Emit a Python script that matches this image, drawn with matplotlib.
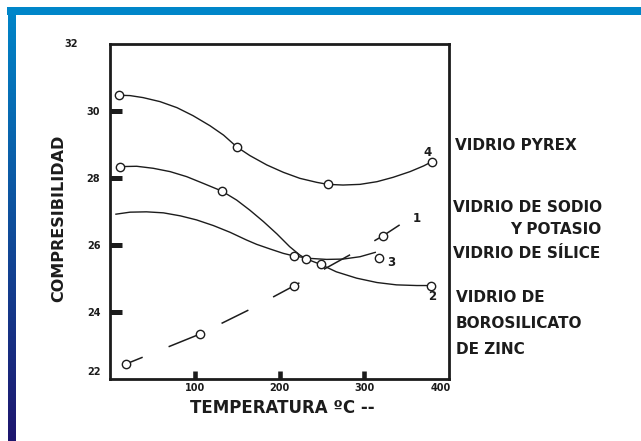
import numpy as np
import matplotlib

matplotlib.use("Agg")

import matplotlib.pyplot as plt
from matplotlib.patches import Rectangle
from matplotlib.transforms import ScaledTranslation

# Temperature (ºC) against compressibility for four glasses.
# 4: pyrex
pyrex_curve_t = [11, 23.6, 39, 59, 79, 98, 118, 134, 149.5, 165, 185, 204.5, 224, 244, 257,
                 275, 295, 315, 334, 354, 370, 380]
pyrex_curve_c = [30.47, 30.46, 30.40, 30.28, 30.10, 29.86, 29.56, 29.28, 28.93, 28.67, 28.39,
                 28.17, 27.99, 27.87, 27.81, 27.79, 27.81, 27.89, 28.02, 28.19, 28.36, 28.49]
pyrex_points_t = [11, 149.5, 257, 380]
pyrex_points_c = [30.47, 28.93, 27.81, 28.49]

# 2: soda-potash glass
sodio_curve_t = [11.8, 31.5, 51, 71, 90.5, 110, 132, 149.5, 165, 181, 197, 212, 224, 231,
                 248.6, 267, 291, 315, 338, 362, 379]
sodio_curve_c = [28.34, 28.35, 28.29, 28.19, 28.04, 27.84, 27.61, 27.34, 27.04, 26.70, 26.33,
                 25.95, 25.70, 25.59, 25.42, 25.20, 25.01, 24.88, 24.81, 24.79, 24.79]
sodio_points_t = [11.8, 132, 231, 248.6, 379]
sodio_points_c = [28.34, 27.61, 25.59, 25.42, 24.79]

# 3: silica glass
silice_curve_t = [7, 23.6, 43, 63, 83, 102, 122, 141.6, 161, 173, 189, 204.5, 217.5, 236,
                  255.6, 275, 295, 313]
silice_curve_c = [26.92, 26.98, 26.99, 26.96, 26.87, 26.75, 26.58, 26.38, 26.15, 26.02, 25.88,
                  25.75, 25.67, 25.60, 25.57, 25.58, 25.65, 25.78]
silice_points_t = [217.5, 317]
silice_points_c = [25.67, 25.60]

# 1: zinc borosilicate glass (dashed)
zinc_curve_t = [19, 106, 166, 217, 287, 322.5, 346]
zinc_curve_c = [22.45, 23.34, 24.09, 24.78, 25.76, 26.28, 26.67]
zinc_points_t = [19, 106, 217, 322.5]
zinc_points_c = [22.45, 23.34, 24.78, 26.28]

x_ticks = [100, 200, 300, 400]
y_ticks = [22, 24, 26, 28, 30, 32]

INK = "#1c1c1c"
W, H = 641, 441

plt.rcParams["font.family"] = ["DejaVu Sans"]

fig = plt.figure(figsize=(W / 100, H / 100), dpi=100)
fig.patch.set_facecolor("white")

# blue page frame: flat bar on top, gradient bar down the left side
fig.patches.append(Rectangle((7 / W, 1 - 15 / H), 1, 8 / H, transform=fig.transFigure,
                             facecolor="#0086c9", edgecolor="none"))
bar = fig.add_axes([8 / W, 0, 8 / W, 1 - 7 / H])
bar.axis("off")
top_rgb = np.array([0, 134, 201]) / 255
bottom_rgb = np.array([30, 22, 110]) / 255
blend = np.linspace(0, 1, 256)[:, None]
grad = top_rgb * (1 - blend) + bottom_rgb * blend
bar.imshow(grad[:, None, :], aspect="auto", extent=[0, 1, 0, 1])

ax = fig.add_axes([110 / W, (H - 379) / H, 339 / W, 335 / H])

line_kw = dict(color=INK, linewidth=1.0, zorder=2)
ax.plot(pyrex_curve_t, pyrex_curve_c, **line_kw)
ax.plot(sodio_curve_t, sodio_curve_c, **line_kw)
ax.plot(silice_curve_t, silice_curve_c, **line_kw)
ax.plot(zinc_curve_t, zinc_curve_c, color=INK, linewidth=1.1, zorder=2,
        linestyle=(7.9, (19.6, 18.3)))

marker_kw = dict(linestyle="none", marker="o", markersize=6, markerfacecolor="white",
                 markeredgecolor=INK, markeredgewidth=1.0, zorder=3)
for t, c in [(pyrex_points_t, pyrex_points_c), (sodio_points_t, sodio_points_c),
             (silice_points_t, silice_points_c), (zinc_points_t, zinc_points_c)]:
    ax.plot(t, c, **marker_kw)

num_kw = dict(fontsize=8.5, fontweight="bold", color=INK, ha="center", va="center")
ax.text(375, 28.75, "4", **num_kw)
ax.text(362, 26.78, "1", **num_kw)
ax.text(332, 25.49, "3", **num_kw)
ax.text(380, 24.45, "2", **num_kw)

ax.set_xlim(0, 400)
ax.set_ylim(22, 32)
ax.set_xticks(x_ticks)
ax.set_xticklabels([str(v) for v in x_ticks])
ax.set_yticks(y_ticks)
ax.set_yticklabels([str(v) for v in y_ticks])
ax.tick_params(axis="x", direction="in", length=5.5, width=3.3, pad=3, labelsize=7,
               colors=INK)
ax.tick_params(axis="y", direction="in", length=8.6, width=3.6, pad=7, labelsize=7,
               colors=INK)
for lab in ax.get_xticklabels() + ax.get_yticklabels():
    lab.set_fontweight("bold")

# no marks at the ends of the scales
ax.xaxis.get_major_ticks()[-1].tick1line.set_visible(False)
ax.yaxis.get_major_ticks()[0].tick1line.set_visible(False)
ax.yaxis.get_major_ticks()[-1].tick1line.set_visible(False)

# nudge the end labels the way they sit on the drawing
def shift(label, dx, dy):
    label.set_transform(label.get_transform() + ScaledTranslation(dx / 100, dy / 100,
                                                                  fig.dpi_scale_trans))

shift(ax.get_xticklabels()[-1], -8, 0)
shift(ax.get_yticklabels()[0], 0, 8)
shift(ax.get_yticklabels()[-1], -22, 1)

for s in ax.spines.values():
    s.set_linewidth(2.0)
    s.set_color(INK)

fig.text(282 / W, 1 - 408 / H, "TEMPERATURA ºC --", fontsize=12, fontweight="bold",
         color=INK, ha="center", va="center")
fig.text(59 / W, 1 - 218 / H, "COMPRESIBILIDAD", fontsize=11.5, fontweight="bold",
         color=INK, ha="center", va="center", rotation=90)

side_kw = dict(fontsize=11, fontweight="bold", color=INK, ha="left", va="center")
fig.text(455 / W, 1 - 145 / H, "VIDRIO PYREX", **side_kw)
fig.text(453 / W, 1 - 208 / H, "VIDRIO DE SODIO", **side_kw)
fig.text(510 / W, 1 - 230 / H, "Y POTASIO", **side_kw)
fig.text(453 / W, 1 - 253 / H, "VIDRIO DE SÍLICE", **side_kw)
fig.text(456 / W, 1 - 298 / H, "VIDRIO DE", **side_kw)
fig.text(456 / W, 1 - 324 / H, "BOROSILICATO", **side_kw)
fig.text(456 / W, 1 - 350 / H, "DE ZINC", **side_kw)

fig.savefig("out.png", dpi=100)
plt.close(fig)
